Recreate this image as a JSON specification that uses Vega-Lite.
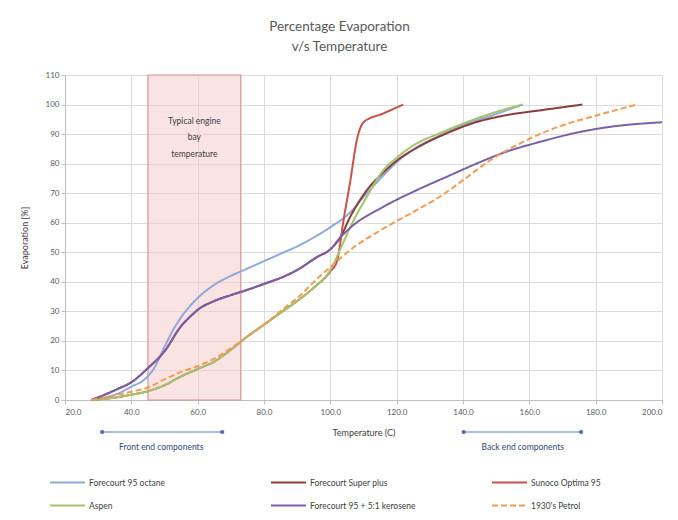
{
  "$schema": "https://vega.github.io/schema/vega-lite/v6.json",
  "width": 597,
  "height": 325,
  "autosize": {"type": "none"},
  "padding": {"left": 65, "top": 75, "right": 16, "bottom": 120},
  "background": "white",
  "config": {
    "font": "Lato",
    "view": {"stroke": null},
    "axis": {"labelColor": "#595959", "labelFontSize": 8, "titleColor": "#404040", "titleFontSize": 9, "titleFontWeight": "normal", "gridColor": "#dcdcdc", "domainColor": "#bfbfbf", "tickColor": "#bfbfbf", "tickSize": 4, "labelOverlap": false}
  },
  "title": {
    "text": ["Percentage Evaporation", "v/s Temperature"],
    "fontSize": 13.5,
    "fontWeight": "normal",
    "color": "#595959",
    "lineHeight": 20,
    "offset": 18,
    "dx": -24
  },
  "datasets": {
    "curves": [
      {"series": "Forecourt 95 octane", "t": 28, "e": 0},
      {"series": "Forecourt 95 octane", "t": 32, "e": 0.8},
      {"series": "Forecourt 95 octane", "t": 36, "e": 2.2},
      {"series": "Forecourt 95 octane", "t": 40, "e": 4.5},
      {"series": "Forecourt 95 octane", "t": 44, "e": 7},
      {"series": "Forecourt 95 octane", "t": 47, "e": 11},
      {"series": "Forecourt 95 octane", "t": 50, "e": 18},
      {"series": "Forecourt 95 octane", "t": 53, "e": 24.5},
      {"series": "Forecourt 95 octane", "t": 56, "e": 29.5},
      {"series": "Forecourt 95 octane", "t": 60, "e": 34.5},
      {"series": "Forecourt 95 octane", "t": 65, "e": 39},
      {"series": "Forecourt 95 octane", "t": 70, "e": 42},
      {"series": "Forecourt 95 octane", "t": 75, "e": 44.5},
      {"series": "Forecourt 95 octane", "t": 80, "e": 47},
      {"series": "Forecourt 95 octane", "t": 85, "e": 49.5},
      {"series": "Forecourt 95 octane", "t": 90, "e": 52},
      {"series": "Forecourt 95 octane", "t": 95, "e": 55},
      {"series": "Forecourt 95 octane", "t": 100, "e": 58.5},
      {"series": "Forecourt 95 octane", "t": 106, "e": 63.5},
      {"series": "Forecourt 95 octane", "t": 111, "e": 70},
      {"series": "Forecourt 95 octane", "t": 116, "e": 76},
      {"series": "Forecourt 95 octane", "t": 120, "e": 80.5},
      {"series": "Forecourt 95 octane", "t": 126, "e": 85.5},
      {"series": "Forecourt 95 octane", "t": 133, "e": 89.5},
      {"series": "Forecourt 95 octane", "t": 140, "e": 93},
      {"series": "Forecourt 95 octane", "t": 150, "e": 96.8},
      {"series": "Forecourt 95 octane", "t": 158, "e": 100},

      {"series": "Forecourt Super plus", "t": 28, "e": 0},
      {"series": "Forecourt Super plus", "t": 32, "e": 1.8},
      {"series": "Forecourt Super plus", "t": 36, "e": 3.8},
      {"series": "Forecourt Super plus", "t": 40, "e": 6},
      {"series": "Forecourt Super plus", "t": 45, "e": 10.8},
      {"series": "Forecourt Super plus", "t": 50, "e": 16.5},
      {"series": "Forecourt Super plus", "t": 55, "e": 25},
      {"series": "Forecourt Super plus", "t": 58, "e": 28.5},
      {"series": "Forecourt Super plus", "t": 60, "e": 30.5},
      {"series": "Forecourt Super plus", "t": 65, "e": 33.5},
      {"series": "Forecourt Super plus", "t": 70, "e": 35.5},
      {"series": "Forecourt Super plus", "t": 75, "e": 37.3},
      {"series": "Forecourt Super plus", "t": 80, "e": 39.3},
      {"series": "Forecourt Super plus", "t": 86, "e": 41.8},
      {"series": "Forecourt Super plus", "t": 90, "e": 44},
      {"series": "Forecourt Super plus", "t": 96, "e": 48.4},
      {"series": "Forecourt Super plus", "t": 100, "e": 51},
      {"series": "Forecourt Super plus", "t": 103, "e": 55},
      {"series": "Forecourt Super plus", "t": 106, "e": 62},
      {"series": "Forecourt Super plus", "t": 111, "e": 71},
      {"series": "Forecourt Super plus", "t": 116, "e": 77},
      {"series": "Forecourt Super plus", "t": 120, "e": 81},
      {"series": "Forecourt Super plus", "t": 126, "e": 85.3},
      {"series": "Forecourt Super plus", "t": 136, "e": 90.7},
      {"series": "Forecourt Super plus", "t": 143, "e": 93.7},
      {"series": "Forecourt Super plus", "t": 153, "e": 96.4},
      {"series": "Forecourt Super plus", "t": 163, "e": 98},
      {"series": "Forecourt Super plus", "t": 176, "e": 100},

      {"series": "Sunoco Optima 95", "t": 28, "e": 0},
      {"series": "Sunoco Optima 95", "t": 35, "e": 0.8},
      {"series": "Sunoco Optima 95", "t": 40, "e": 1.8},
      {"series": "Sunoco Optima 95", "t": 45, "e": 3},
      {"series": "Sunoco Optima 95", "t": 50, "e": 5},
      {"series": "Sunoco Optima 95", "t": 55, "e": 8},
      {"series": "Sunoco Optima 95", "t": 60, "e": 10.5},
      {"series": "Sunoco Optima 95", "t": 65, "e": 13},
      {"series": "Sunoco Optima 95", "t": 70, "e": 17},
      {"series": "Sunoco Optima 95", "t": 75, "e": 21.5},
      {"series": "Sunoco Optima 95", "t": 80, "e": 25.5},
      {"series": "Sunoco Optima 95", "t": 85, "e": 29.5},
      {"series": "Sunoco Optima 95", "t": 90, "e": 33.5},
      {"series": "Sunoco Optima 95", "t": 95, "e": 38},
      {"series": "Sunoco Optima 95", "t": 100, "e": 43.5},
      {"series": "Sunoco Optima 95", "t": 102, "e": 47},
      {"series": "Sunoco Optima 95", "t": 104, "e": 61},
      {"series": "Sunoco Optima 95", "t": 106, "e": 74},
      {"series": "Sunoco Optima 95", "t": 108, "e": 88},
      {"series": "Sunoco Optima 95", "t": 110, "e": 94},
      {"series": "Sunoco Optima 95", "t": 116, "e": 97},
      {"series": "Sunoco Optima 95", "t": 122, "e": 100},

      {"series": "Aspen", "t": 28, "e": 0},
      {"series": "Aspen", "t": 35, "e": 0.8},
      {"series": "Aspen", "t": 40, "e": 1.8},
      {"series": "Aspen", "t": 45, "e": 3},
      {"series": "Aspen", "t": 50, "e": 5},
      {"series": "Aspen", "t": 55, "e": 8},
      {"series": "Aspen", "t": 60, "e": 10.5},
      {"series": "Aspen", "t": 65, "e": 13},
      {"series": "Aspen", "t": 70, "e": 17},
      {"series": "Aspen", "t": 75, "e": 21.5},
      {"series": "Aspen", "t": 80, "e": 25.5},
      {"series": "Aspen", "t": 85, "e": 29.5},
      {"series": "Aspen", "t": 90, "e": 33.5},
      {"series": "Aspen", "t": 95, "e": 38},
      {"series": "Aspen", "t": 100, "e": 44},
      {"series": "Aspen", "t": 103, "e": 51},
      {"series": "Aspen", "t": 106, "e": 58.5},
      {"series": "Aspen", "t": 111, "e": 68.8},
      {"series": "Aspen", "t": 116, "e": 77.8},
      {"series": "Aspen", "t": 120, "e": 82},
      {"series": "Aspen", "t": 126, "e": 86.8},
      {"series": "Aspen", "t": 133, "e": 90.3},
      {"series": "Aspen", "t": 143, "e": 94.8},
      {"series": "Aspen", "t": 150, "e": 97.5},
      {"series": "Aspen", "t": 158, "e": 100},

      {"series": "Forecourt 95 + 5:1 kerosene", "t": 28, "e": 0},
      {"series": "Forecourt 95 + 5:1 kerosene", "t": 32, "e": 1.8},
      {"series": "Forecourt 95 + 5:1 kerosene", "t": 36, "e": 3.8},
      {"series": "Forecourt 95 + 5:1 kerosene", "t": 40, "e": 6},
      {"series": "Forecourt 95 + 5:1 kerosene", "t": 45, "e": 10.8},
      {"series": "Forecourt 95 + 5:1 kerosene", "t": 50, "e": 16.5},
      {"series": "Forecourt 95 + 5:1 kerosene", "t": 55, "e": 25},
      {"series": "Forecourt 95 + 5:1 kerosene", "t": 58, "e": 28.5},
      {"series": "Forecourt 95 + 5:1 kerosene", "t": 60, "e": 30.5},
      {"series": "Forecourt 95 + 5:1 kerosene", "t": 65, "e": 33.5},
      {"series": "Forecourt 95 + 5:1 kerosene", "t": 70, "e": 35.5},
      {"series": "Forecourt 95 + 5:1 kerosene", "t": 75, "e": 37.3},
      {"series": "Forecourt 95 + 5:1 kerosene", "t": 80, "e": 39.3},
      {"series": "Forecourt 95 + 5:1 kerosene", "t": 86, "e": 41.8},
      {"series": "Forecourt 95 + 5:1 kerosene", "t": 90, "e": 44},
      {"series": "Forecourt 95 + 5:1 kerosene", "t": 96, "e": 48.4},
      {"series": "Forecourt 95 + 5:1 kerosene", "t": 100, "e": 51},
      {"series": "Forecourt 95 + 5:1 kerosene", "t": 103, "e": 55},
      {"series": "Forecourt 95 + 5:1 kerosene", "t": 106, "e": 58.3},
      {"series": "Forecourt 95 + 5:1 kerosene", "t": 116, "e": 65.4},
      {"series": "Forecourt 95 + 5:1 kerosene", "t": 126, "e": 71},
      {"series": "Forecourt 95 + 5:1 kerosene", "t": 136, "e": 76},
      {"series": "Forecourt 95 + 5:1 kerosene", "t": 143, "e": 79.5},
      {"series": "Forecourt 95 + 5:1 kerosene", "t": 153, "e": 84},
      {"series": "Forecourt 95 + 5:1 kerosene", "t": 163, "e": 87.3},
      {"series": "Forecourt 95 + 5:1 kerosene", "t": 173.5, "e": 90.3},
      {"series": "Forecourt 95 + 5:1 kerosene", "t": 184, "e": 92.4},
      {"series": "Forecourt 95 + 5:1 kerosene", "t": 200, "e": 94},

      {"series": "1930's Petrol", "t": 28, "e": 0},
      {"series": "1930's Petrol", "t": 35, "e": 1.5},
      {"series": "1930's Petrol", "t": 40, "e": 2.8},
      {"series": "1930's Petrol", "t": 45, "e": 4.2},
      {"series": "1930's Petrol", "t": 50, "e": 7},
      {"series": "1930's Petrol", "t": 55, "e": 9.5},
      {"series": "1930's Petrol", "t": 60, "e": 11.5},
      {"series": "1930's Petrol", "t": 65, "e": 14},
      {"series": "1930's Petrol", "t": 70, "e": 17.5},
      {"series": "1930's Petrol", "t": 75, "e": 21.5},
      {"series": "1930's Petrol", "t": 80, "e": 25.5},
      {"series": "1930's Petrol", "t": 86, "e": 31},
      {"series": "1930's Petrol", "t": 90, "e": 34.5},
      {"series": "1930's Petrol", "t": 96, "e": 41},
      {"series": "1930's Petrol", "t": 100, "e": 45},
      {"series": "1930's Petrol", "t": 106, "e": 50.8},
      {"series": "1930's Petrol", "t": 116, "e": 58},
      {"series": "1930's Petrol", "t": 126, "e": 64.3},
      {"series": "1930's Petrol", "t": 133, "e": 68.8},
      {"series": "1930's Petrol", "t": 140, "e": 74.4},
      {"series": "1930's Petrol", "t": 148, "e": 81},
      {"series": "1930's Petrol", "t": 158, "e": 87.3},
      {"series": "1930's Petrol", "t": 168.5, "e": 92.4},
      {"series": "1930's Petrol", "t": 178.6, "e": 95.8},
      {"series": "1930's Petrol", "t": 192.5, "e": 100}
    ],
    "box": [{"t1": 45, "t2": 73, "e1": 0, "e2": 110, "label": ["Typical engine", "bay", "temperature"], "tm": 59, "em": 94.5}],
    "ranges": [
      {"a": 31.2, "b": 67.4, "m": 49, "label": "Front end components"},
      {"a": 140.2, "b": 175.6, "m": 158, "label": "Back end components"}
    ]
  },
  "encoding": {
    "x": {"type": "quantitative", "scale": {"domain": [20, 200], "nice": false}, "axis": {"values": [20, 40, 60, 80, 100, 120, 140, 160, 180, 200], "format": ".1f", "title": "Temperature (C)", "titlePadding": 12, "labelPadding": 4}},
    "y": {"type": "quantitative", "scale": {"domain": [0, 110], "nice": false}, "axis": {"values": [0, 10, 20, 30, 40, 50, 60, 70, 80, 90, 100, 110], "tickCount": 12, "title": "Evaporation [%]", "titlePadding": 16}}
  },
  "layer": [
    {
      "data": {"name": "box"},
      "mark": {"type": "rect", "fill": "#f4c7c7", "fillOpacity": 0.5, "stroke": "#d99494", "strokeWidth": 1.2},
      "encoding": {
        "x": {"field": "t1", "type": "quantitative"},
        "x2": {"field": "t2"},
        "y": {"field": "e1", "type": "quantitative"},
        "y2": {"field": "e2"}
      }
    },
    {
      "data": {"name": "box"},
      "mark": {"type": "text", "fontSize": 8.5, "color": "#404040", "lineHeight": 16.5, "baseline": "middle"},
      "encoding": {
        "x": {"field": "tm", "type": "quantitative"},
        "y": {"field": "em", "type": "quantitative"},
        "text": {"field": "label"}
      }
    },
    {
      "data": {"name": "curves"},
      "mark": {"type": "line", "strokeWidth": 2, "interpolate": "monotone"},
      "encoding": {
        "x": {"field": "t", "type": "quantitative"},
        "y": {"field": "e", "type": "quantitative"},
        "color": {
          "field": "series", "type": "nominal", "title": null,
          "scale": {
            "domain": ["Forecourt 95 octane", "Forecourt Super plus", "Sunoco Optima 95", "Aspen", "Forecourt 95 + 5:1 kerosene", "1930's Petrol"],
            "range": ["#8ea9db", "#8c3b3b", "#c9524a", "#a3c46a", "#7b60a8", "#f39a55"]
          },
          "legend": {
            "orient": "none", "legendX": -16, "legendY": 389, "columns": 3, "direction": "horizontal",
            "symbolType": "stroke", "symbolSize": 1225, "symbolStrokeWidth": 2,
            "labelFontSize": 8.5, "labelColor": "#404040", "labelOffset": 3,
            "gridAlign": "all", "columnPadding": 72, "rowPadding": -22
          }
        },
        "strokeDash": {
          "field": "series", "type": "nominal", "title": null,
          "scale": {
            "domain": ["Forecourt 95 octane", "Forecourt Super plus", "Sunoco Optima 95", "Aspen", "Forecourt 95 + 5:1 kerosene", "1930's Petrol"],
            "range": [[1, 0], [1, 0], [1, 0], [1, 0], [1, 0], [6, 3]]
          }
        }
      }
    },
    {
      "data": {"name": "ranges"},
      "mark": {"type": "rule", "color": "#5b7fc4", "strokeWidth": 1.2, "yOffset": 32},
      "encoding": {
        "x": {"field": "a", "type": "quantitative"},
        "x2": {"field": "b"},
        "y": {"datum": 0, "type": "quantitative"}
      }
    },
    {
      "data": {"name": "ranges"},
      "mark": {"type": "point", "filled": true, "color": "#4a6fb5", "size": 18, "opacity": 1, "yOffset": 32},
      "encoding": {
        "x": {"field": "a", "type": "quantitative"},
        "y": {"datum": 0, "type": "quantitative"}
      }
    },
    {
      "data": {"name": "ranges"},
      "mark": {"type": "point", "filled": true, "color": "#4a6fb5", "size": 18, "opacity": 1, "yOffset": 32},
      "encoding": {
        "x": {"field": "b", "type": "quantitative"},
        "y": {"datum": 0, "type": "quantitative"}
      }
    },
    {
      "data": {"name": "ranges"},
      "mark": {"type": "text", "fontSize": 8.5, "color": "#2f4a80", "yOffset": 47, "baseline": "middle"},
      "encoding": {
        "x": {"field": "m", "type": "quantitative"},
        "y": {"datum": 0, "type": "quantitative"},
        "text": {"field": "label"}
      }
    }
  ]
}
